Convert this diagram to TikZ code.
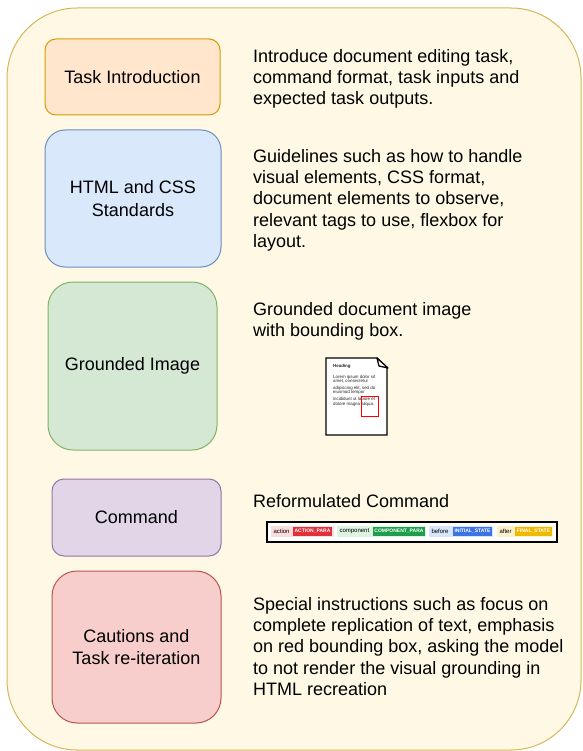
\documentclass[tikz,border=0pt]{standalone}
\usepackage{fontspec}
\setmainfont{Liberation Sans}
\definecolor{framefill}{HTML}{FEF8E4}
\definecolor{framedraw}{HTML}{D6B656}
\definecolor{introfill}{HTML}{FFE6CC}
\definecolor{introdraw}{HTML}{D79B00}
\definecolor{htmlfill}{HTML}{DAE8FC}
\definecolor{htmldraw}{HTML}{6C8EBF}
\definecolor{groundfill}{HTML}{D5E8D4}
\definecolor{grounddraw}{HTML}{82B366}
\definecolor{cmdfill}{HTML}{E1D5E7}
\definecolor{cmddraw}{HTML}{9673A6}
\definecolor{cautionfill}{HTML}{F8CECC}
\definecolor{cautiondraw}{HTML}{B85450}
\definecolor{actbg}{HTML}{FCDDDD}
\definecolor{actchip}{HTML}{E0303A}
\definecolor{compbg}{HTML}{DDF4E2}
\definecolor{compchip}{HTML}{1E9E4A}
\definecolor{beforebg}{HTML}{D9E5FA}
\definecolor{beforechip}{HTML}{3C73E6}
\definecolor{afterbg}{HTML}{FCF1CC}
\definecolor{afterchip}{HTML}{F1B800}
\begin{document}
\begin{tikzpicture}[x=1pt,y=-1pt,
	part/.style={line width=1pt,align=center,inner sep=0pt,text=black,font=\fontsize{18}{22.5}\selectfont},
	desc/.style={anchor=north west,align=left,inner sep=0pt,font=\fontsize{18}{21.3}\selectfont},
	doctext/.style={anchor=base west,inner sep=0pt,text=black!85,font=\fontsize{4.4}{4.4}\selectfont},
	seg/.style={inner sep=0pt,minimum height=11pt},
	chip/.style={inner sep=0pt,minimum height=9pt,text=white,font=\fontsize{5}{5}\selectfont\bfseries},
	tag/.style={anchor=west,inner sep=0pt,font=\fontsize{6}{6}\selectfont}]
	\useasboundingbox (0,0) rectangle (582,751);
	% frame
	\draw[framedraw,fill=framefill,line width=1pt,rounded corners=70pt] (7,8) rectangle (581,750);
	% left column
	\node[part,draw=introdraw,fill=introfill,rounded corners=11pt,minimum width=175pt,minimum height=76pt] (intro) at (132.5,77) {Task Introduction};
	\node[part,draw=htmldraw,fill=htmlfill,rounded corners=20pt,minimum width=176pt,minimum height=137pt] (html) at (133,198.5) {HTML and CSS\\Standards};
	\node[part,draw=grounddraw,fill=groundfill,rounded corners=25pt,minimum width=169pt,minimum height=168pt] (ground) at (132.5,366) {Grounded Image};
	\node[part,draw=cmddraw,fill=cmdfill,rounded corners=12pt,minimum width=169pt,minimum height=77pt] (cmd) at (136.5,517.5) {Command};
	\node[part,draw=cautiondraw,fill=cautionfill,rounded corners=25pt,minimum width=169pt,minimum height=152pt] (caution) at (136.5,647) {Cautions and\\Task re-iteration};
	% right column
	\node[desc] (introtext) at (253,49) {Introduce document editing task,\\command format, task inputs and\\expected task outputs.};
	\node[desc] (htmltext) at (253,149) {Guidelines such as how to handle\\visual elements, CSS format,\\document elements to observe,\\relevant tags to use, flexbox for\\layout.};
	\node[desc] (groundtext) at (253,302) {Grounded document image\\with bounding box.};
	\node[desc] (cmdtext) at (253,494) {Reformulated Command};
	\node[desc] (cautiontext) at (253,597) {Special instructions such as focus on\\complete replication of text, emphasis\\on red bounding box, asking the model\\to not render the visual grounding in\\HTML recreation};
	% page
	\draw[line width=1.3pt,fill=white] (326,358) -- (377,358) -- (387,368) -- (387,435) -- (326,435) -- cycle;
	\draw[line width=1.3pt,fill=white,line join=round] (377,358) -- (388,368) -- (379,366) -- cycle;
	\node[doctext,font=\fontsize{4.4}{4.4}\selectfont\bfseries] (heading) at (333,367.5) {Heading};
	\foreach \ln/\yy [count=\i] in {{Lorem ipsum dolor sit}/378.5,{amet, consectetur}/382.5,{adipiscing elit, sed do}/389.5,{eiusmod tempor}/393.5,{incididunt ut labore et}/400.5,{dolore magna aliqua.}/405.5}
		\node[doctext] (line\i) at (333,\yy) {\ln};
	\node[draw=red,line width=1pt,minimum width=17pt,minimum height=20pt,inner sep=0pt] (bbox) at (369.5,406) {};
	% command bar
	\node[draw,line width=1.2pt,fill=white,minimum width=290pt,minimum height=20pt,inner sep=0pt] (bar) at (412,532) {};
	\foreach \nm/\tg/\ch/\sx/\sw/\cx/\cw in {act/action/ACTION\_PARA/302.5/63/312.5/39,comp/component/COMPONENT\_PARA/381.5/89/399/52,before/before/INITIAL\_STATE/461/64/472.5/39,after/after/FINAL\_STATE/525/56/533.5/37}{
		\node[seg,fill=\nm bg,minimum width=\sw pt] (\nm-seg) at (\sx,531.5) {};
		\node[tag] (\nm-tag) at ([xshift=2.5pt]\nm-seg.west) {\tg};
		\node[chip,fill=\nm chip,minimum width=\cw pt] (\nm-chip) at (\cx,531.5) {\ch};
	}
\end{tikzpicture}
\end{document}
